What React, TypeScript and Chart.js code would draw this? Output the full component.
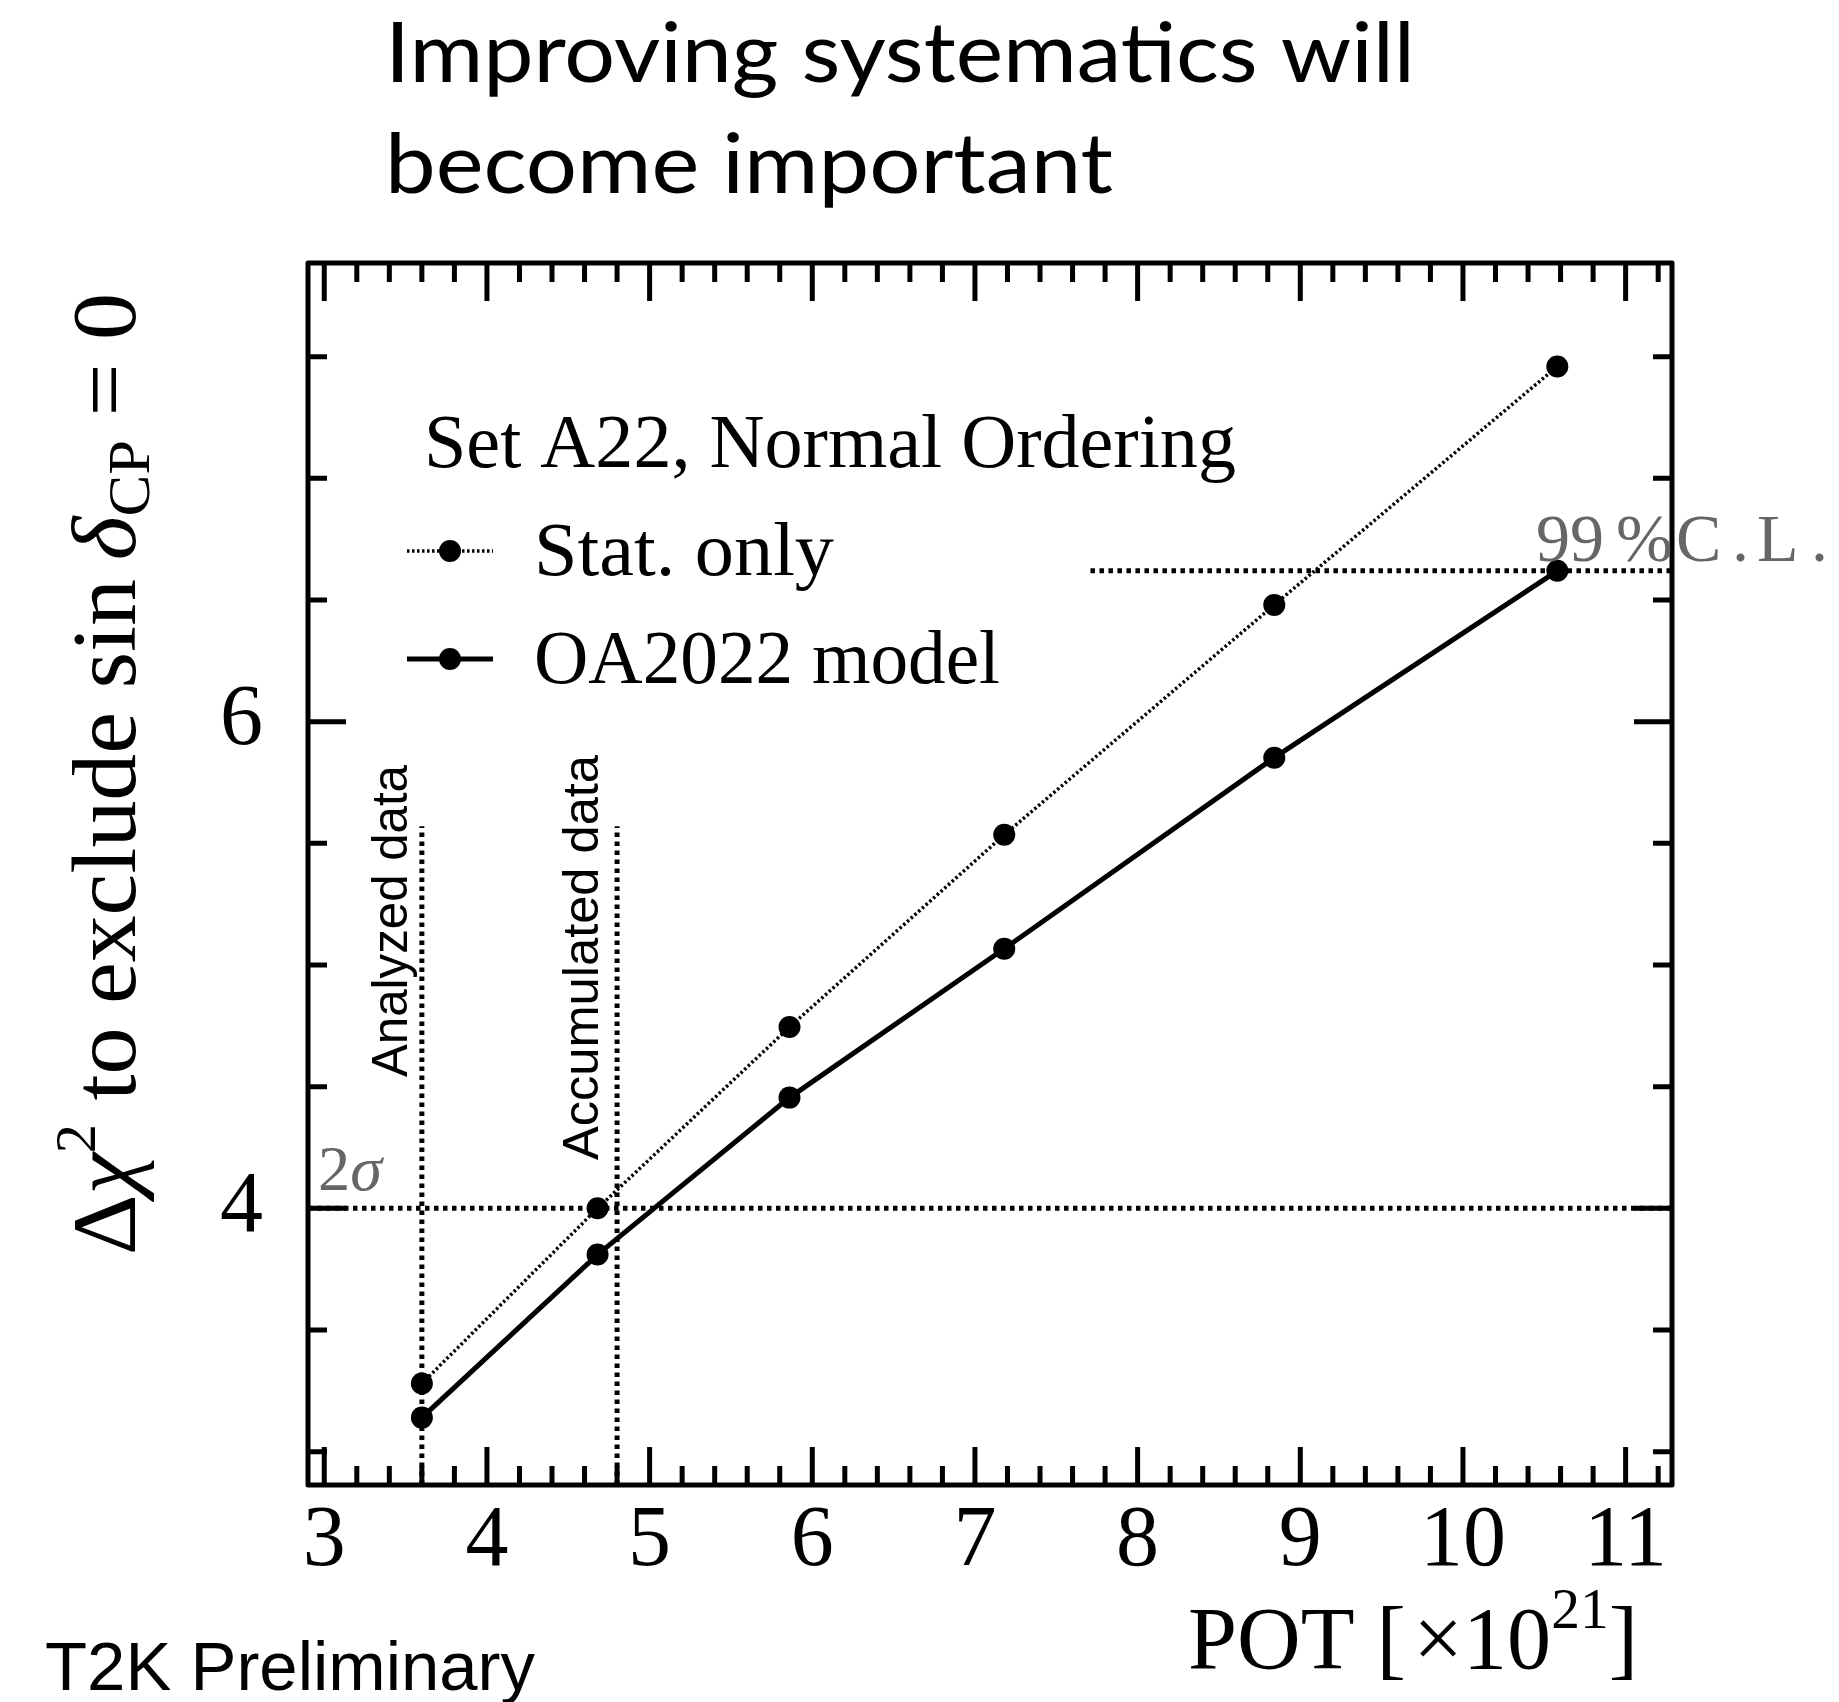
import React, { useEffect, useRef } from 'react';
import { Chart, registerables } from 'chart.js';

Chart.register(...registerables);

// ---- data ----
const POT = [3.6, 4.68, 5.86, 7.18, 8.84, 10.58];
const STAT_ONLY = [3.28, 4.0, 4.745, 5.535, 6.48, 7.46];
const OA2022_MODEL = [3.14, 3.81, 4.455, 5.067, 5.852, 6.62];
const X_TICKS = [3, 4, 5, 6, 7, 8, 9, 10, 11];
const Y_TICKS = [4, 6];
const X_RANGE = [2.9, 11.285];
const Y_RANGE = [2.863, 7.885];
const SIGMA2_LEVEL = 4;
const CL99_LEVEL = 6.62;
const CL99_FROM = 7.71;
const ANALYZED_POT = 3.6;
const ACCUMULATED_POT = 4.8;
const DATA_LINE_TOP = 5.57;

const W = 1839;
const H = 1702;
const SERIF = "'Liberation Serif', 'Times New Roman', serif";
const SANS = "'Liberation Sans', Arial, sans-serif";
const TITLE_FONT = "Lato, 'Noto Sans', sans-serif";
const GRAY = '#666666';

type Seg = { t: string; size: number; style?: string; dy?: number; family?: string };

function drawRich(
  ctx: CanvasRenderingContext2D,
  segs: Seg[],
  x: number,
  y: number,
  targetW: number | null,
  family: string,
  color: string,
  rotate = false,
  align: 'left' | 'right' = 'left'
) {
  ctx.save();
  ctx.translate(x, y);
  if (rotate) ctx.rotate(-Math.PI / 2);
  let total = 0;
  const widths = segs.map((s) => {
    ctx.font = `${s.style || 'normal'} 400 ${s.size}px ${s.family || family}`;
    const w = ctx.measureText(s.t).width;
    total += w;
    return w;
  });
  const sc = targetW ? targetW / total : 1;
  ctx.scale(sc, 1);
  let cx = align === 'right' ? -total : 0;
  ctx.fillStyle = color;
  ctx.textBaseline = 'alphabetic';
  ctx.textAlign = 'left';
  segs.forEach((s, i) => {
    ctx.font = `${s.style || 'normal'} 400 ${s.size}px ${s.family || family}`;
    ctx.fillText(s.t, cx, -(s.dy || 0));
    cx += widths[i];
  });
  ctx.restore();
}

const rootStyle = {
  id: 'rootStyle',
  afterDatasetsDraw(chart: any) {
    const { ctx, chartArea: a, scales } = chart;
    const x = scales.x;
    const y = scales.y;
    ctx.save();
    ctx.strokeStyle = '#000';
    ctx.lineWidth = 5;
    ctx.lineCap = 'butt';
    // x ticks (minor every 0.2, major every 1)
    const i0 = Math.ceil(X_RANGE[0] * 5 - 1e-6);
    const i1 = Math.floor(X_RANGE[1] * 5 + 1e-6);
    for (let i = i0; i <= i1; i++) {
      const major = i % 5 === 0;
      const len = major ? 38 : 19;
      const px = x.getPixelForValue(i / 5);
      ctx.beginPath();
      ctx.moveTo(px, a.bottom);
      ctx.lineTo(px, a.bottom - len);
      ctx.moveTo(px, a.top);
      ctx.lineTo(px, a.top + len);
      ctx.stroke();
    }
    // y ticks (minor every 0.5, major every 2)
    const j0 = Math.ceil(Y_RANGE[0] * 2 - 1e-6);
    const j1 = Math.floor(Y_RANGE[1] * 2 + 1e-6);
    for (let j = j0; j <= j1; j++) {
      const major = j % 4 === 0;
      const len = major ? 38 : 19;
      const py = y.getPixelForValue(j / 2);
      ctx.beginPath();
      ctx.moveTo(a.left, py);
      ctx.lineTo(a.left + len, py);
      ctx.moveTo(a.right, py);
      ctx.lineTo(a.right - len, py);
      ctx.stroke();
    }
    ctx.lineJoin = 'round';
    ctx.strokeRect(a.left, a.top, a.right - a.left, a.bottom - a.top);
    ctx.restore();
  },
  afterDraw(chart: any) {
    const { ctx, chartArea: a, scales } = chart;
    const x = scales.x;
    const y = scales.y;

    // Title (two lines)
    drawRich(ctx, [{ t: 'Improving systematics will', size: 84 }], 385, 82, 1030, TITLE_FONT, '#000');
    drawRich(ctx, [{ t: 'become important', size: 84 }], 385, 193, 728, TITLE_FONT, '#000');

    // Y axis title
    drawRich(
      ctx,
      [
        { t: '\u0394', size: 90 },
        { t: '\u03C7', size: 90, style: 'italic' },
        { t: '2', size: 56, dy: 40 },
        { t: ' to exclude sin', size: 90 },
        { t: '\u2009', size: 90 },
        { t: '\u03B4', size: 90, style: 'italic' },
        { t: 'CP', size: 60, dy: -14 },
        { t: ' = 0', size: 90 },
      ],
      135,
      1255,
      962,
      SERIF,
      '#000',
      true
    );

    // X axis title
    drawRich(
      ctx,
      [
        { t: 'POT [\u200A\u00D7', size: 89 },
        { t: '10', size: 89 },
        { t: '21', size: 58, dy: 40 },
        { t: ']', size: 89 },
      ],
      1638,
      1668,
      450,
      SERIF,
      '#000',
      false,
      'right'
    );

    // T2K Preliminary
    drawRich(ctx, [{ t: 'T2K Preliminary', size: 68 }], 45, 1690, 490, SANS, '#000');

    // Legend
    drawRich(ctx, [{ t: 'Set A22, Normal Ordering', size: 76 }], 424, 467, 812, SERIF, '#000');
    drawRich(ctx, [{ t: 'Stat. only', size: 76 }], 534, 575, 300, SERIF, '#000');
    drawRich(ctx, [{ t: 'OA2022 model', size: 76 }], 534, 683, 466, SERIF, '#000');

    ctx.save();
    ctx.strokeStyle = '#000';
    ctx.fillStyle = '#000';
    // stat-only legend symbol
    ctx.lineWidth = 3.5;
    ctx.setLineDash([2.5, 2.5]);
    ctx.beginPath();
    ctx.moveTo(407, 551);
    ctx.lineTo(493, 551);
    ctx.stroke();
    ctx.setLineDash([]);
    ctx.beginPath();
    ctx.arc(450, 551, 11, 0, Math.PI * 2);
    ctx.fill();
    // OA2022 legend symbol
    ctx.lineWidth = 5;
    ctx.beginPath();
    ctx.moveTo(407, 659);
    ctx.lineTo(493, 659);
    ctx.stroke();
    ctx.beginPath();
    ctx.arc(450, 659, 11, 0, Math.PI * 2);
    ctx.fill();
    ctx.restore();

    // 2 sigma label
    drawRich(
      ctx,
      [
        { t: '2', size: 64 },
        { t: '\u03C3', size: 64, style: 'italic' },
      ],
      a.left + 10,
      y.getPixelForValue(SIGMA2_LEVEL) - 18,
      64,
      SERIF,
      GRAY
    );

    // 99 % C.L. label (spaced like the ROOT TLatex output)
    const clY = y.getPixelForValue(CL99_LEVEL) - 10;
    const clX = 1536;
    const pieces: [string, number][] = [
      ['99', 0],
      ['%', 80],
      ['C', 140],
      ['.', 196],
      ['L', 221],
      ['.', 275],
    ];
    ctx.save();
    ctx.fillStyle = GRAY;
    ctx.font = `normal 400 68px ${SERIF}`;
    ctx.textBaseline = 'alphabetic';
    pieces.forEach(([t, dx]) => ctx.fillText(t, clX + dx, clY));
    ctx.restore();

    // Vertical labels
    drawRich(ctx, [{ t: 'Analyzed data', size: 50 }], x.getPixelForValue(ANALYZED_POT) - 15, 1077, 312, SANS, '#000', true);
    drawRich(ctx, [{ t: 'Accumulated data', size: 50 }], x.getPixelForValue(ACCUMULATED_POT) - 19, 1160, 405, SANS, '#000', true);
  },
};

const refLine = (pts: { x: number; y: number }[]) => ({
  data: pts,
  borderColor: '#000',
  borderWidth: 5,
  borderDash: [4.5, 4.5],
  pointRadius: 0,
  fill: false,
  order: 5,
});

export default function App() {
  const ref = useRef<HTMLCanvasElement | null>(null);
  useEffect(() => {
    if (!ref.current) return;
    const chart = new Chart(ref.current, {
      type: 'line',
      data: {
        datasets: [
          refLine([
            { x: X_RANGE[0], y: SIGMA2_LEVEL },
            { x: X_RANGE[1], y: SIGMA2_LEVEL },
          ]),
          refLine([
            { x: CL99_FROM, y: CL99_LEVEL },
            { x: X_RANGE[1], y: CL99_LEVEL },
          ]),
          refLine([
            { x: ANALYZED_POT, y: Y_RANGE[0] },
            { x: ANALYZED_POT, y: DATA_LINE_TOP },
          ]),
          refLine([
            { x: ACCUMULATED_POT, y: Y_RANGE[0] },
            { x: ACCUMULATED_POT, y: DATA_LINE_TOP },
          ]),
          {
            label: 'Stat. only',
            data: POT.map((v, i) => ({ x: v, y: STAT_ONLY[i] })),
            borderColor: '#000',
            borderWidth: 3.5,
            borderDash: [2.5, 2.5],
            pointRadius: 11,
            pointBorderWidth: 0,
            pointBackgroundColor: '#000',
            pointStyle: 'circle',
            order: 1,
          },
          {
            label: 'OA2022 model',
            data: POT.map((v, i) => ({ x: v, y: OA2022_MODEL[i] })),
            borderColor: '#000',
            borderWidth: 5,
            pointRadius: 11,
            pointBorderWidth: 0,
            pointBackgroundColor: '#000',
            pointStyle: 'circle',
            order: 0,
          },
        ] as any,
      },
      options: {
        animation: false,
        responsive: false,
        devicePixelRatio: 1,
        events: [],
        layout: { padding: { left: 0, top: 263, right: W - 1672, bottom: 0 } },
        plugins: { legend: { display: false }, tooltip: { enabled: false } },
        scales: {
          x: {
            type: 'linear',
            min: X_RANGE[0],
            max: X_RANGE[1],
            afterBuildTicks: (s: any) => {
              s.ticks = X_TICKS.map((v) => ({ value: v }));
            },
            afterFit: (s: any) => {
              s.height = H - 1485;
            },
            grid: { display: false },
            border: { display: false },
            ticks: {
              autoSkip: false,
              maxRotation: 0,
              padding: 6,
              color: '#000',
              font: { family: SERIF, size: 86, lineHeight: 1 },
              callback: (v: any) => String(v),
            },
          },
          y: {
            type: 'linear',
            min: Y_RANGE[0],
            max: Y_RANGE[1],
            afterBuildTicks: (s: any) => {
              s.ticks = Y_TICKS.map((v) => ({ value: v }));
            },
            afterFit: (s: any) => {
              s.width = 308;
            },
            grid: { display: false },
            border: { display: false },
            ticks: {
              padding: 37,
              color: '#000',
              font: { family: SERIF, size: 86, lineHeight: 1 },
              callback: (v: any) => String(v),
            },
          },
        },
      } as any,
      plugins: [rootStyle],
    });
    return () => chart.destroy();
  }, []);

  return (
    <div style={{ position: 'absolute', left: 0, top: 0, width: W, height: H, background: '#fff' }}>
      <canvas ref={ref} width={W} height={H} style={{ display: 'block', width: W, height: H }} />
    </div>
  );
}
